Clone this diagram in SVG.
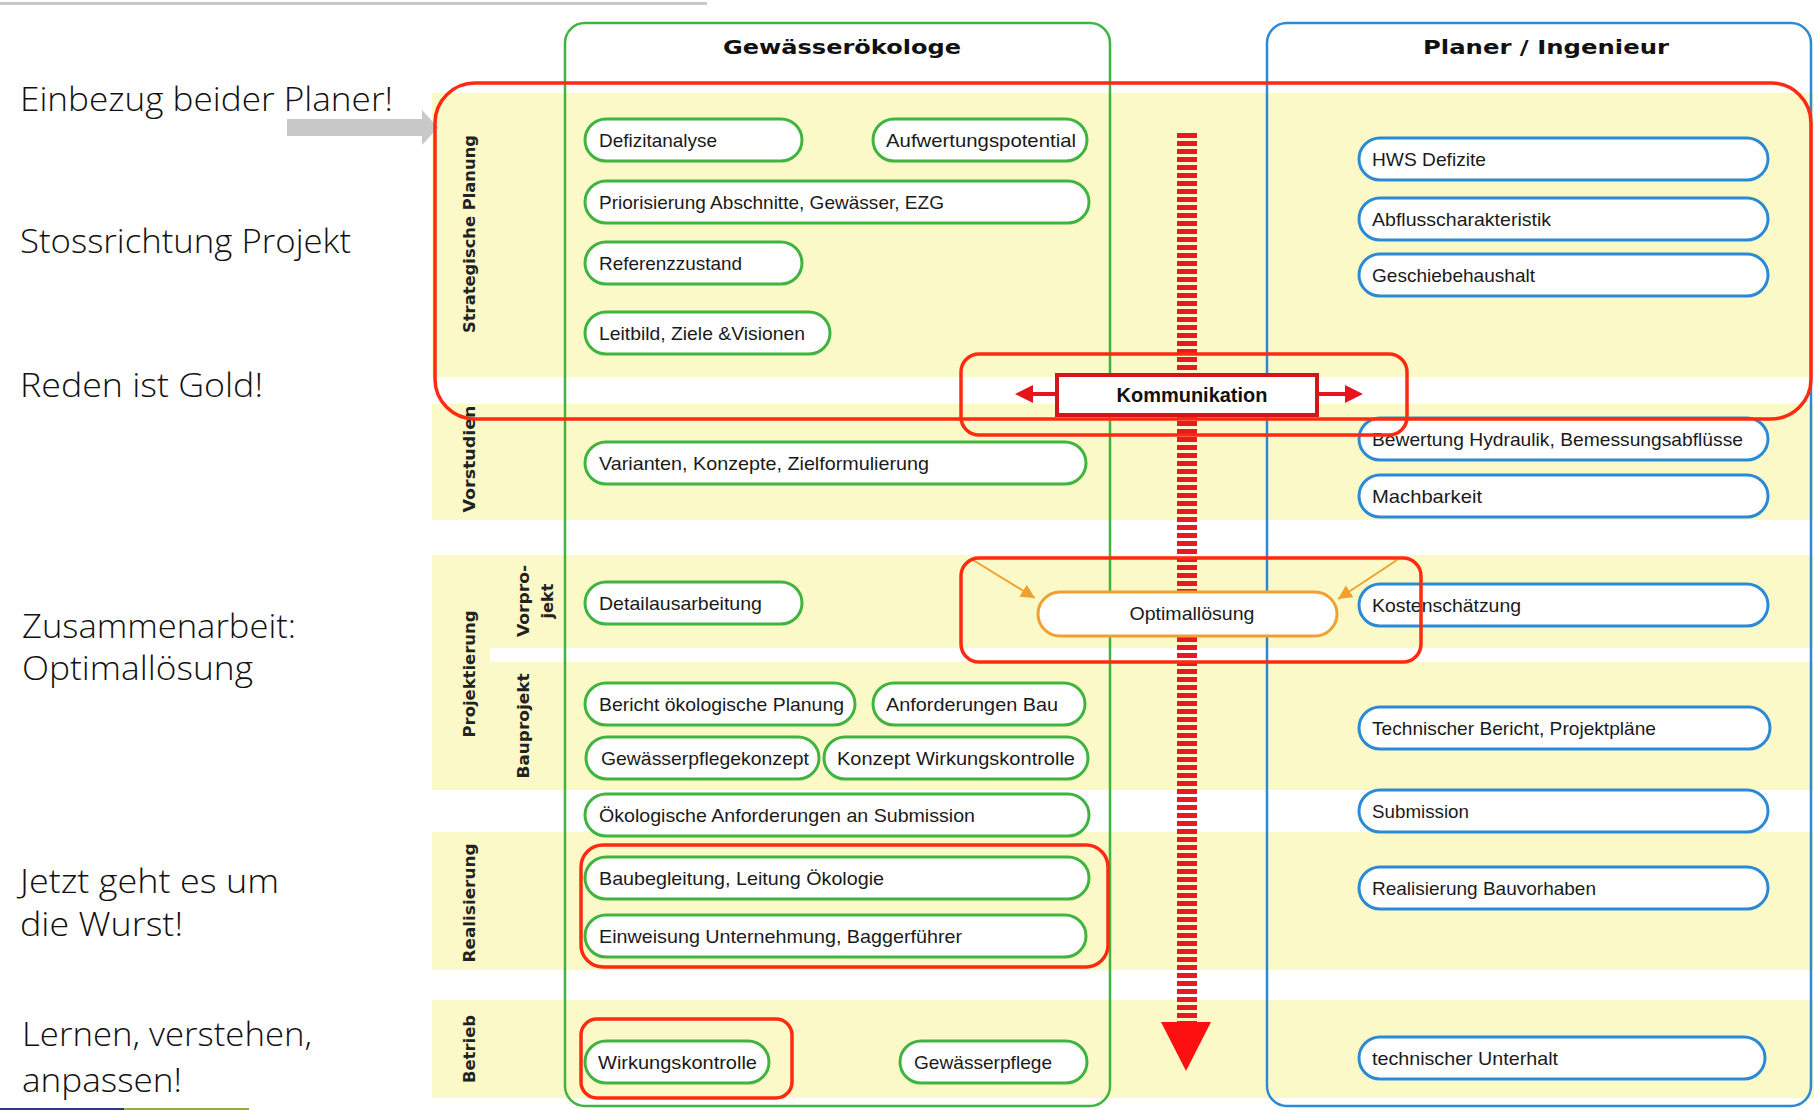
<svg xmlns="http://www.w3.org/2000/svg" width="1814" height="1110" viewBox="0 0 1814 1110">
<style>
.band{fill:#fcf9c8}
.gap{fill:#ffffff}
.side{font-family:"Open Sans","Liberation Sans",sans-serif;font-weight:300;font-size:33px;fill:#111}
.head{font-family:"DejaVu Sans","Liberation Sans",sans-serif;font-weight:bold;font-size:19px;fill:#111}
.phase{font-family:"DejaVu Sans","Liberation Sans",sans-serif;font-weight:bold;font-size:16px;fill:#222}
.gp{fill:#fff;stroke:#3fb43f;stroke-width:3}
.bp{fill:#fff;stroke:#2a8ad6;stroke-width:3}
.pt{font-family:"Liberation Sans",Arial,sans-serif;font-size:19px;fill:#1a1a1a}
.hl{fill:none;stroke:#ff2a10;stroke-width:3.5}
</style>
<defs>
<marker id="oa" markerWidth="16" markerHeight="16" refX="14" refY="7" orient="auto" markerUnits="userSpaceOnUse">
<path d="M0,0 L14,7 L0,14 Z" fill="#f0a030"/>
</marker>
</defs>

<rect width="1814" height="1110" fill="#ffffff"/>
<line x1="0" y1="3.5" x2="707" y2="3.5" stroke="#c8c8c8" stroke-width="3"/>
<line x1="0" y1="1109" x2="124" y2="1109" stroke="#2b3a85" stroke-width="2"/>
<line x1="124" y1="1109" x2="249" y2="1109" stroke="#8ab43c" stroke-width="2"/>

<g id="bands">
<rect class="band" x="432" y="93" width="1382" height="284"/>
<rect class="band" x="432" y="404" width="1382" height="116"/>
<rect class="band" x="432" y="555" width="1382" height="235"/>
<rect class="gap" x="490" y="648" width="1324" height="14"/>
<rect class="band" x="432" y="832" width="1382" height="138"/>
<rect class="band" x="432" y="1000" width="1382" height="98"/>
</g>

<g id="side-notes">
<text class="side" x="20" y="111" textLength="373" lengthAdjust="spacingAndGlyphs">Einbezug beider Planer!</text>
<text class="side" x="20" y="253" textLength="331" lengthAdjust="spacingAndGlyphs">Stossrichtung Projekt</text>
<text class="side" x="20" y="397" textLength="243" lengthAdjust="spacingAndGlyphs">Reden ist Gold!</text>
<text class="side" x="22" y="638" textLength="274" lengthAdjust="spacingAndGlyphs">Zusammenarbeit:</text>
<text class="side" x="22" y="680" textLength="231" lengthAdjust="spacingAndGlyphs">Optimallösung</text>
<text class="side" x="20" y="893" textLength="259" lengthAdjust="spacingAndGlyphs">Jetzt geht es um</text>
<text class="side" x="20" y="936" textLength="163" lengthAdjust="spacingAndGlyphs">die Wurst!</text>
<text class="side" x="22" y="1046" textLength="290" lengthAdjust="spacingAndGlyphs">Lernen, verstehen,</text>
<text class="side" x="22" y="1092" textLength="160" lengthAdjust="spacingAndGlyphs">anpassen!</text>
</g>

<g id="gray-arrow">
<rect x="287" y="119" width="136" height="17" fill="#c8c8c8"/>
<polygon points="422,110 438,127.5 422,145" fill="#c8c8c8"/>
</g>

<g id="phase-labels">
<text class="phase" transform="translate(475,234) rotate(-90)" text-anchor="middle" textLength="198" lengthAdjust="spacingAndGlyphs">Strategische Planung</text>
<text class="phase" transform="translate(475,459) rotate(-90)" text-anchor="middle" textLength="107" lengthAdjust="spacingAndGlyphs">Vorstudien</text>
<text class="phase" transform="translate(475,674) rotate(-90)" text-anchor="middle" textLength="127" lengthAdjust="spacingAndGlyphs">Projektierung</text>
<text class="phase" transform="translate(529,601) rotate(-90)" text-anchor="middle" textLength="72" lengthAdjust="spacingAndGlyphs">Vorpro-</text>
<text class="phase" transform="translate(553,601) rotate(-90)" text-anchor="middle" textLength="35" lengthAdjust="spacingAndGlyphs">jekt</text>
<text class="phase" transform="translate(529,726) rotate(-90)" text-anchor="middle" textLength="105" lengthAdjust="spacingAndGlyphs">Bauprojekt</text>
<text class="phase" transform="translate(475,903) rotate(-90)" text-anchor="middle" textLength="119" lengthAdjust="spacingAndGlyphs">Realisierung</text>
<text class="phase" transform="translate(475,1049) rotate(-90)" text-anchor="middle" textLength="68" lengthAdjust="spacingAndGlyphs">Betrieb</text>
</g>

<g id="col-oekologe">
<rect x="565" y="23" width="545" height="1083" rx="20" fill="none" stroke="#3fb43f" stroke-width="2.5"/>
<text class="head" x="842" y="54" text-anchor="middle" textLength="238" lengthAdjust="spacingAndGlyphs">Gewässerökologe</text>
</g>
<g id="col-planer">
<rect x="1267" y="23" width="544" height="1083" rx="20" fill="none" stroke="#2a8ad6" stroke-width="2.5"/>
<text class="head" x="1546" y="54" text-anchor="middle" textLength="246" lengthAdjust="spacingAndGlyphs">Planer / Ingenieur</text>
</g>

<g id="connectors">
<line x1="1187" y1="133" x2="1187" y2="1024" stroke="#e31b23" stroke-width="20" stroke-dasharray="5 3"/>
<polygon points="1161,1022 1211,1022 1186,1071" fill="#ff1010"/>
<line x1="973" y1="560" x2="1035" y2="598" stroke="#f0a030" stroke-width="2" marker-end="url(#oa)"/>
<line x1="1397" y1="560" x2="1338" y2="599" stroke="#f0a030" stroke-width="2" marker-end="url(#oa)"/>
<line x1="1057" y1="394" x2="1030" y2="394" stroke="#e8141c" stroke-width="4"/>
<polygon points="1033,385 1033,403 1015,394" fill="#e8141c"/>
<line x1="1317" y1="394" x2="1346" y2="394" stroke="#e8141c" stroke-width="4"/>
<polygon points="1345,385 1345,403 1363,394" fill="#e8141c"/>
</g>

<g id="n-defizitanalyse"><rect class="gp" x="585" y="119" width="217" height="42" rx="21"/><text class="pt" x="599" y="147" textLength="118" lengthAdjust="spacingAndGlyphs">Defizitanalyse</text></g>
<g id="n-aufwertung"><rect class="gp" x="873" y="119" width="214" height="42" rx="21"/><text class="pt" x="886" y="147" textLength="190" lengthAdjust="spacingAndGlyphs">Aufwertungspotential</text></g>
<g id="n-priorisierung"><rect class="gp" x="585" y="181" width="504" height="42" rx="21"/><text class="pt" x="599" y="209" textLength="345" lengthAdjust="spacingAndGlyphs">Priorisierung Abschnitte, Gewässer, EZG</text></g>
<g id="n-referenz"><rect class="gp" x="585" y="242" width="217" height="42" rx="21"/><text class="pt" x="599" y="270" textLength="143" lengthAdjust="spacingAndGlyphs">Referenzzustand</text></g>
<g id="n-leitbild"><rect class="gp" x="585" y="312" width="245" height="42" rx="21"/><text class="pt" x="599" y="340" textLength="206" lengthAdjust="spacingAndGlyphs">Leitbild, Ziele &amp;Visionen</text></g>
<g id="n-varianten"><rect class="gp" x="585" y="442" width="501" height="42" rx="21"/><text class="pt" x="599" y="470" textLength="330" lengthAdjust="spacingAndGlyphs">Varianten, Konzepte, Zielformulierung</text></g>
<g id="n-detail"><rect class="gp" x="585" y="582" width="217" height="42" rx="21"/><text class="pt" x="599" y="610" textLength="163" lengthAdjust="spacingAndGlyphs">Detailausarbeitung</text></g>
<g id="n-bericht"><rect class="gp" x="585" y="683" width="270" height="42" rx="21"/><text class="pt" x="599" y="711" textLength="245" lengthAdjust="spacingAndGlyphs">Bericht ökologische Planung</text></g>
<g id="n-anfbau"><rect class="gp" x="873" y="683" width="212" height="42" rx="21"/><text class="pt" x="886" y="711" textLength="172" lengthAdjust="spacingAndGlyphs">Anforderungen Bau</text></g>
<g id="n-pflegekonzept"><rect class="gp" x="586" y="737" width="233" height="42" rx="21"/><text class="pt" x="601" y="765" textLength="208" lengthAdjust="spacingAndGlyphs">Gewässerpflegekonzept</text></g>
<g id="n-konzeptwk"><rect class="gp" x="824" y="737" width="264" height="42" rx="21"/><text class="pt" x="837" y="765" textLength="238" lengthAdjust="spacingAndGlyphs">Konzept Wirkungskontrolle</text></g>
<g id="n-oekanf"><rect class="gp" x="585" y="794" width="504" height="42" rx="21"/><text class="pt" x="599" y="822" textLength="376" lengthAdjust="spacingAndGlyphs">Ökologische Anforderungen an Submission</text></g>
<g id="n-baubegleitung"><rect class="gp" x="585" y="857" width="504" height="42" rx="21"/><text class="pt" x="599" y="885" textLength="285" lengthAdjust="spacingAndGlyphs">Baubegleitung, Leitung Ökologie</text></g>
<g id="n-einweisung"><rect class="gp" x="585" y="915" width="501" height="42" rx="21"/><text class="pt" x="599" y="943" textLength="363" lengthAdjust="spacingAndGlyphs">Einweisung Unternehmung, Baggerführer</text></g>
<g id="n-wirkungskontrolle"><rect class="gp" x="585" y="1041" width="184" height="42" rx="21"/><text class="pt" x="598" y="1069" textLength="159" lengthAdjust="spacingAndGlyphs">Wirkungskontrolle</text></g>
<g id="n-gewaesserpflege"><rect class="gp" x="900" y="1041" width="187" height="42" rx="21"/><text class="pt" x="914" y="1069" textLength="138" lengthAdjust="spacingAndGlyphs">Gewässerpflege</text></g>

<g id="n-hws"><rect class="bp" x="1359" y="138" width="409" height="42" rx="21"/><text class="pt" x="1372" y="166" textLength="114" lengthAdjust="spacingAndGlyphs">HWS Defizite</text></g>
<g id="n-abfluss"><rect class="bp" x="1359" y="198" width="409" height="42" rx="21"/><text class="pt" x="1372" y="226" textLength="179" lengthAdjust="spacingAndGlyphs">Abflusscharakteristik</text></g>
<g id="n-geschiebe"><rect class="bp" x="1359" y="254" width="409" height="42" rx="21"/><text class="pt" x="1372" y="282" textLength="163" lengthAdjust="spacingAndGlyphs">Geschiebehaushalt</text></g>
<g id="n-bewertung"><rect class="bp" x="1359" y="418" width="409" height="42" rx="21"/><text class="pt" x="1372" y="446" textLength="371" lengthAdjust="spacingAndGlyphs">Bewertung Hydraulik, Bemessungsabflüsse</text></g>
<g id="n-machbarkeit"><rect class="bp" x="1359" y="475" width="409" height="42" rx="21"/><text class="pt" x="1372" y="503" textLength="110" lengthAdjust="spacingAndGlyphs">Machbarkeit</text></g>
<g id="n-kosten"><rect class="bp" x="1359" y="584" width="409" height="42" rx="21"/><text class="pt" x="1372" y="612" textLength="149" lengthAdjust="spacingAndGlyphs">Kostenschätzung</text></g>
<g id="n-techbericht"><rect class="bp" x="1359" y="707" width="411" height="42" rx="21"/><text class="pt" x="1372" y="735" textLength="284" lengthAdjust="spacingAndGlyphs">Technischer Bericht, Projektpläne</text></g>
<g id="n-submission"><rect class="bp" x="1359" y="790" width="409" height="42" rx="21"/><text class="pt" x="1372" y="818" textLength="97" lengthAdjust="spacingAndGlyphs">Submission</text></g>
<g id="n-realisierung"><rect class="bp" x="1359" y="867" width="409" height="42" rx="21"/><text class="pt" x="1372" y="895" textLength="224" lengthAdjust="spacingAndGlyphs">Realisierung Bauvorhaben</text></g>
<g id="n-unterhalt"><rect class="bp" x="1359" y="1037" width="406" height="42" rx="21"/><text class="pt" x="1372" y="1065" textLength="186" lengthAdjust="spacingAndGlyphs">technischer Unterhalt</text></g>

<g id="n-kommunikation">
<rect x="1057" y="375" width="260" height="40" fill="#fff" stroke="#d3161e" stroke-width="4"/>
<text x="1192" y="402" text-anchor="middle" font-family="Liberation Sans, Arial, sans-serif" font-weight="bold" font-size="20" fill="#111" textLength="151" lengthAdjust="spacingAndGlyphs">Kommunikation</text>
</g>
<g id="n-optimal">
<rect x="1038" y="592" width="299" height="44" rx="22" fill="#fff" stroke="#f0a030" stroke-width="3"/>
<text class="pt" x="1192" y="620" text-anchor="middle" textLength="125" lengthAdjust="spacingAndGlyphs">Optimallösung</text>
</g>

<g id="highlights">
<rect class="hl" x="435" y="83" width="1376" height="336" rx="40"/>
<rect class="hl" x="961" y="354" width="446" height="81" rx="18"/>
<rect class="hl" x="961" y="558" width="460" height="104" rx="18"/>
<rect class="hl" x="581" y="845" width="527" height="122" rx="22"/>
<rect class="hl" x="581" y="1019" width="211" height="79" rx="16"/>
</g>
</svg>
